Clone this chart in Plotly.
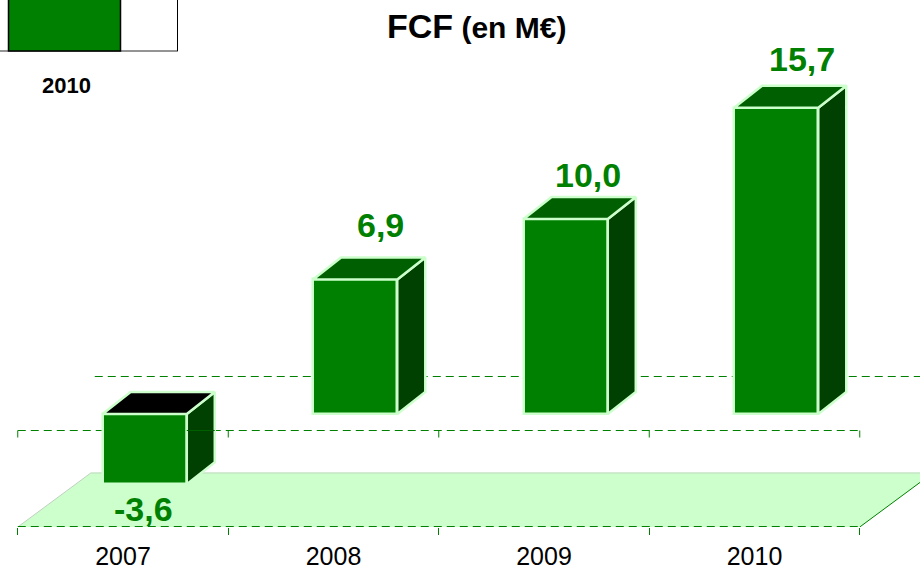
import plotly.graph_objects as go

# --- data ---
years = ["2007", "2008", "2009", "2010"]
fcf = [-3.6, 6.9, 10.0, 15.7]
fcf_labels = ["-3,6", "6,9", "10,0", "15,7"]
legend_year = "2010"

# --- layout constants (pixels of the 920x571 frame) ---
W, H = 920, 571
AX_Y = 527          # pixel row of the axis
ZERO_Y = 414        # pixel row of value 0
PX_PER_UNIT = 19.5
CAT_PX = 210.5      # category width
CAT0_X = 123        # pixel column of first category centre
GREEN, DARK, TOPC, EDGE, FLOOR = "#008000", "#004000", "#005f00", "#ccffcc", "#ccffcc"

xr = [-CAT0_X / CAT_PX, (W - CAT0_X) / CAT_PX]
yr = [-(AX_Y - ZERO_Y) / PX_PER_UNIT, ZERO_Y / PX_PER_UNIT]
idx = list(range(len(years)))

bar_shift = 0.103
bar_w = 0.40
depth_x, depth_y = 28 / CAT_PX, 22 / PX_PER_UNIT
floor_dx, floor_dy = 73 / CAT_PX, 54 / PX_PER_UNIT
back_grid_dx = 77 / CAT_PX
left_edge, right_edge = -0.5, len(years) - 0.5
floor_y = yr[0]
floor_line_y = -(526.5 - ZERO_Y) / PX_PER_UNIT
front_grid_y = -(430.5 - ZERO_Y) / PX_PER_UNIT
back_grid_y = (ZERO_Y - 376.5) / PX_PER_UNIT
label_dx_px = [20, 47, 44, 47]
label_dy_px = [-25, 54, 44, 49]

xc = [i + bar_shift for i in idx]


def poly(pts):
    return [p[0] for p in pts] + [pts[0][0], None], [p[1] for p in pts] + [pts[0][1], None]


side_x, side_y, top_pos_x, top_pos_y, top_neg_x, top_neg_y = [], [], [], [], [], []
for c, v in zip(xc, fcf):
    hi, lo = max(v, 0), min(v, 0)
    r = c + bar_w / 2
    l = c - bar_w / 2
    sx, sy = poly([(r, hi), (r + depth_x, hi + depth_y), (r + depth_x, lo + depth_y), (r, lo)])
    side_x += sx
    side_y += sy
    tx, ty = poly([(l, hi), (l + depth_x, hi + depth_y), (r + depth_x, hi + depth_y), (r, hi)])
    if v >= 0:
        top_pos_x += tx
        top_pos_y += ty
    else:
        top_neg_x += tx
        top_neg_y += ty

fig = go.Figure()
fig.add_trace(go.Bar(x=xc, y=fcf, width=bar_w, marker=dict(color=GREEN, line=dict(color=EDGE, width=2.5)),
                     showlegend=False, hoverinfo="skip"))
for px, py, col in [(side_x, side_y, DARK), (top_pos_x, top_pos_y, TOPC), (top_neg_x, top_neg_y, "#000000")]:
    fig.add_trace(go.Scatter(x=px, y=py, mode="lines", fill="toself", fillcolor=col,
                             line=dict(color=EDGE, width=2.5), showlegend=False, hoverinfo="skip"))
# the front grid line shows through the side of the negative bar
r0 = xc[0] + bar_w / 2
fig.add_trace(go.Scatter(x=[r0, r0 + depth_x], y=[front_grid_y, front_grid_y], mode="lines",
                         line=dict(color="#006000", width=1), showlegend=False, hoverinfo="skip"))

# value labels
for i, (c, v, t) in enumerate(zip(idx, fcf, fcf_labels)):
    fig.add_annotation(x=c, y=v, text=f"<b>{t}</b>", showarrow=False, xanchor="center", yanchor="middle",
                       xshift=label_dx_px[i], yshift=label_dy_px[i],
                       font=dict(family="Liberation Sans", size=34, color=GREEN))

shapes = []
# floor
shapes.append(dict(type="path", xref="x", yref="y", layer="below", fillcolor=FLOOR, line=dict(width=0),
                   path=f"M{left_edge},{floor_y} L{right_edge},{floor_y} "
                        f"L{right_edge + floor_dx},{floor_y + floor_dy} L{left_edge + floor_dx},{floor_y + floor_dy} Z"))
for x0, y0, x1, y1, col, w, dash in [
    (left_edge + floor_dx, floor_y + floor_dy, right_edge + floor_dx, floor_y + floor_dy, "#c4e4c4", 1.5, "solid"),
    (left_edge, floor_y, left_edge + floor_dx, floor_y + floor_dy, "#c0d0c0", 1, "solid"),
    (right_edge, floor_y, right_edge + floor_dx, floor_y + floor_dy, GREEN, 1, "solid"),
    (left_edge, floor_line_y, right_edge, floor_line_y, GREEN, 1, "8px,5px"),
    (left_edge, front_grid_y, right_edge, front_grid_y, GREEN, 1, "8px,5px"),
    (left_edge + back_grid_dx, back_grid_y, right_edge + back_grid_dx, back_grid_y, GREEN, 1, "8px,5px"),
]:
    shapes.append(dict(type="line", xref="x", yref="y", layer="below", x0=x0, y0=y0, x1=x1, y1=y1,
                       line=dict(color=col, width=w, dash=dash)))
# short ticks under the front grid line
for k in range(len(years) + 1):
    shapes.append(dict(type="line", xref="x", yref="y", layer="below", x0=left_edge + k, x1=left_edge + k,
                       y0=front_grid_y, y1=front_grid_y - 7 / PX_PER_UNIT, line=dict(color=GREEN, width=1)))
# legend key, cropped by the top of the frame
ly = 1 - 51 / H
shapes.append(dict(type="line", xref="paper", yref="paper", x0=0, x1=178 / W, y0=ly, y1=ly,
                   line=dict(color="#707070", width=1.5)))
shapes.append(dict(type="rect", xref="paper", yref="paper", x0=8.5 / W, x1=120.5 / W, y0=ly, y1=1.01,
                   fillcolor=GREEN, line=dict(color="#000000", width=1.5)))
shapes.append(dict(type="line", xref="paper", yref="paper", x0=177.5 / W, x1=177.5 / W, y0=ly, y1=1,
                   line=dict(color="#000000", width=1)))

fig.add_annotation(xref="paper", yref="paper", x=476 / W, y=1 - 26 / H, showarrow=False, xanchor="center",
                   yanchor="middle",
                   text='<b>FCF</b><b><span style="font-size:30px"> (en M€)</span></b>',
                   font=dict(family="Liberation Sans", size=34, color="#000000"))
fig.add_annotation(xref="paper", yref="paper", x=66 / W, y=1 - 86 / H, showarrow=False, xanchor="center",
                   yanchor="middle", text=f"<b>{legend_year}</b>",
                   font=dict(family="Liberation Sans", size=22, color="#000000"))

fig.update_layout(
    width=W, height=H, margin=dict(l=0, r=0, t=0, b=0, autoexpand=False), paper_bgcolor="#ffffff",
    plot_bgcolor="rgba(0,0,0,0)", showlegend=False, shapes=shapes, bargap=0,
    xaxis=dict(range=xr, autorange=False, automargin=False, tickmode="array", tickvals=idx, ticktext=years, ticks="",
               showgrid=False, zeroline=False, showline=False,
               tickfont=dict(family="Liberation Sans", size=25, color="#000000"),
               ticklabelstandoff=12,
               minor=dict(tickmode="array", tickvals=[left_edge + k for k in range(len(years) + 1)], ticks="outside",
                          ticklen=7, tickcolor=GREEN, tickwidth=1, showgrid=False)),
    yaxis=dict(range=yr, autorange=False, automargin=False, domain=[(H - AX_Y) / H, 1], visible=False),
)
fig.write_html("out.html", config={"displayModeBar": False}, post_script="document.body.style.margin='0';")
